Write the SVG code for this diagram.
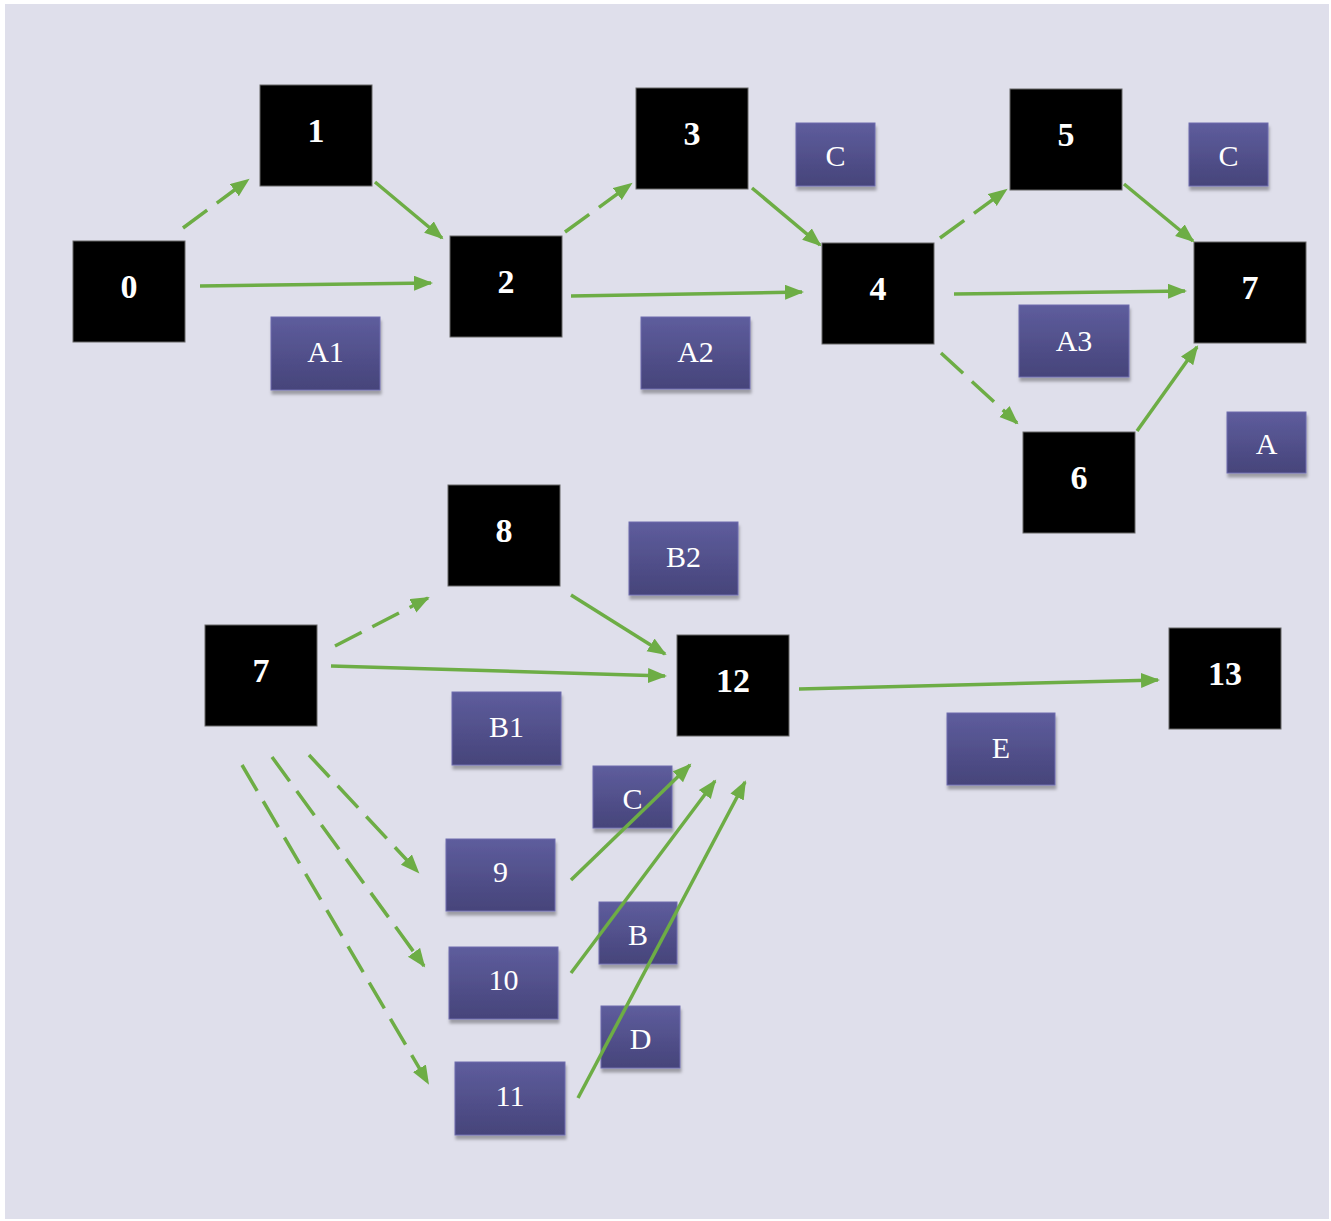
<svg xmlns="http://www.w3.org/2000/svg" width="1331" height="1221" viewBox="0 0 1331 1221">
<defs>
<linearGradient id="pg" x1="0" y1="0" x2="0" y2="1">
<stop offset="0" stop-color="#5E5D9D"/>
<stop offset="1" stop-color="#46447A"/>
</linearGradient>
<filter id="sh" x="-20%" y="-20%" width="150%" height="160%">
<feDropShadow dx="1" dy="4" stdDeviation="1.5" flood-color="#000" flood-opacity="0.3"/>
</filter>
<marker id="ah" markerUnits="userSpaceOnUse" markerWidth="20" markerHeight="16" refX="17" refY="7.5" orient="auto">
<path d="M0,0 L19,7.5 L0,15 z" fill="#6DAD45"/>
</marker>
<style>
.bn rect{fill:#000;stroke:#666;stroke-width:1}
.bn text{fill:#fff;font-family:"Liberation Serif",serif;font-weight:bold;font-size:34px;text-anchor:middle}
.lb rect{fill:url(#pg);stroke:#6E6DAE;stroke-width:1;filter:url(#sh)}
.lb text{fill:#fff;font-family:"Liberation Serif",serif;font-size:30px;text-anchor:middle}
.c line{stroke:#6DAD45;stroke-width:3.5;fill:none;marker-end:url(#ah)}
.c .d{stroke-dasharray:30 12}
</style>
</defs>
<rect x="0" y="0" width="1331" height="1221" fill="#fff"/>
<rect x="5" y="4" width="1324" height="1215" fill="#DFDFEB"/>

<g id="label-A1" class="lb"><rect x="271" y="317" width="109" height="73"/><text x="325.5" y="362">A1</text></g>
<g id="label-A2" class="lb"><rect x="641" y="317" width="109" height="72"/><text x="695.5" y="362">A2</text></g>
<g id="label-C1" class="lb"><rect x="796" y="123" width="79" height="63"/><text x="835.5" y="166">C</text></g>
<g id="label-C2" class="lb"><rect x="1189" y="123" width="79" height="63"/><text x="1228.5" y="166">C</text></g>
<g id="label-A3" class="lb"><rect x="1019" y="305" width="110" height="72"/><text x="1074" y="351">A3</text></g>
<g id="label-A" class="lb"><rect x="1227" y="412" width="79" height="61"/><text x="1266.5" y="454">A</text></g>
<g id="label-B2" class="lb"><rect x="629" y="522" width="109" height="73"/><text x="683.5" y="567">B2</text></g>
<g id="label-B1" class="lb"><rect x="452" y="692" width="109" height="73"/><text x="506.5" y="737">B1</text></g>
<g id="label-E" class="lb"><rect x="947" y="713" width="108" height="72"/><text x="1001" y="758">E</text></g>
<g id="label-C3" class="lb"><rect x="593" y="766" width="79" height="62"/><text x="632.5" y="809">C</text></g>
<g id="label-9" class="lb"><rect x="446" y="839" width="109" height="72"/><text x="500.5" y="882">9</text></g>
<g id="label-B" class="lb"><rect x="599" y="902" width="78" height="62"/><text x="638" y="945">B</text></g>
<g id="label-10" class="lb"><rect x="449" y="947" width="109" height="72"/><text x="503.5" y="990">10</text></g>
<g id="label-D" class="lb"><rect x="601" y="1006" width="79" height="62"/><text x="640.5" y="1049">D</text></g>
<g id="label-11" class="lb"><rect x="455" y="1062" width="110" height="73"/><text x="510" y="1106">11</text></g>

<g id="node-0" class="bn"><rect x="73" y="241" width="112" height="101"/><text x="129" y="298">0</text></g>
<g id="node-1" class="bn"><rect x="260" y="85" width="112" height="101"/><text x="316" y="142">1</text></g>
<g id="node-2" class="bn"><rect x="450" y="236" width="112" height="101"/><text x="506" y="293">2</text></g>
<g id="node-3" class="bn"><rect x="636" y="88" width="112" height="101"/><text x="692" y="145">3</text></g>
<g id="node-4" class="bn"><rect x="822" y="243" width="112" height="101"/><text x="878" y="300">4</text></g>
<g id="node-5" class="bn"><rect x="1010" y="89" width="112" height="101"/><text x="1066" y="146">5</text></g>
<g id="node-7" class="bn"><rect x="1194" y="242" width="112" height="101"/><text x="1250" y="299">7</text></g>
<g id="node-6" class="bn"><rect x="1023" y="432" width="112" height="101"/><text x="1079" y="489">6</text></g>
<g id="node-8" class="bn"><rect x="448" y="485" width="112" height="101"/><text x="504" y="542">8</text></g>
<g id="node-7b" class="bn"><rect x="205" y="625" width="112" height="101"/><text x="261" y="682">7</text></g>
<g id="node-12" class="bn"><rect x="677" y="635" width="112" height="101"/><text x="733" y="692">12</text></g>
<g id="node-13" class="bn"><rect x="1169" y="628" width="112" height="101"/><text x="1225" y="685">13</text></g>

<g id="connectors" class="c">
<line class="d" x1="183" y1="228" x2="248" y2="180"/>
<line x1="375" y1="182" x2="442" y2="238"/>
<line x1="200" y1="286" x2="431" y2="283"/>
<line class="d" x1="565" y1="232" x2="631" y2="184"/>
<line x1="752" y1="188" x2="820" y2="245"/>
<line x1="571" y1="296" x2="802" y2="292"/>
<line class="d" x1="940" y1="238" x2="1006" y2="190"/>
<line x1="954" y1="294" x2="1185" y2="291"/>
<line class="d" x1="941" y1="353" x2="1017" y2="423"/>
<line x1="1124" y1="184" x2="1193" y2="241"/>
<line x1="1137" y1="431" x2="1197" y2="347"/>
<line class="d" x1="335" y1="646" x2="428" y2="598"/>
<line x1="571" y1="595" x2="665" y2="654"/>
<line x1="331" y1="666" x2="665" y2="676"/>
<line x1="799" y1="689" x2="1158" y2="680"/>
<line class="d" x1="309" y1="755" x2="418" y2="872"/>
<line class="d" x1="272" y1="757" x2="424" y2="966"/>
<line class="d" x1="242" y1="765" x2="428" y2="1083"/>
<line x1="571" y1="880" x2="690" y2="765"/>
<line x1="571" y1="973" x2="715" y2="781"/>
<line x1="578" y1="1098" x2="745" y2="782"/>
</g>
</svg>
